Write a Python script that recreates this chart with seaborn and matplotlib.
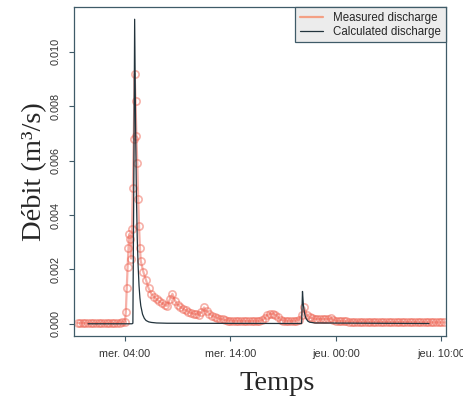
import pandas as pd
import matplotlib
matplotlib.use("Agg")
import matplotlib.pyplot as plt
import seaborn as sns
from matplotlib.lines import Line2D

# Measured discharge (m3/s), sampled every 15 min, every 5 min during the flood
measured_pre = [0.00003, 0.00002, 0.00003, 0.00002, 0.00002, 0.00003,
                0.00003, 0.00002, 0.00003, 0.00004, 0.00003, 0.00003,
                0.00004, 0.00003, 0.00002, 0.00003, 0.00004, 0.00005]
measured_flood = [0.00008, 0.00045, 0.0013, 0.0021, 0.0028, 0.0033, 0.0031,
                  0.0024, 0.0035, 0.0050, 0.0068, 0.0092, 0.0082, 0.0069,
                  0.0059, 0.0046, 0.0036, 0.0028, 0.0023]
measured_post = [
    0.0019,
    0.0016, 0.0013, 0.0011, 0.0010,        # 06h
    0.0009, 0.00082, 0.00076, 0.0007,      # 07h
    0.00066, 0.0009, 0.0011, 0.00085,      # 08h
    0.0007, 0.00062, 0.00056, 0.0005,      # 09h
    0.00045, 0.0004, 0.00037, 0.00035,     # 10h
    0.00034, 0.00042, 0.0006, 0.00046,     # 11h
    0.00037, 0.0003, 0.00026, 0.00022,     # 12h
    0.00018, 0.00016, 0.00014, 0.00012,    # 13h
    0.00012, 0.00011, 0.00011, 0.00011,    # 14h
    0.00011, 0.00011, 0.0001, 0.0001,      # 15h
    0.0001, 0.00011, 0.0001, 0.00011,      # 16h
    0.00013, 0.0002, 0.00033, 0.00037,     # 17h
    0.00037, 0.00034, 0.00025, 0.00015,    # 18h
    0.00012, 0.00011, 0.00011, 0.00011,    # 19h
    0.00011, 0.00012, 0.00015, 0.00032,    # 20h
    0.0006, 0.00033, 0.00024, 0.0002,      # 21h
    0.00018, 0.00018, 0.00017, 0.00018,    # 22h
    0.00017, 0.00018, 0.0002, 0.00015,     # 23h
    0.00011, 0.0001, 0.0001, 0.00009,      # 00h
    0.00009, 0.00008, 0.00008, 0.00008,    # 01h
    0.00008, 0.00008, 0.00007, 0.00008,    # 02h
    0.00007, 0.00007, 0.00007, 0.00007,    # 03h
    0.00007, 0.00007, 0.00006, 0.00007,    # 04h
    0.00006, 0.00006, 0.00006, 0.00006,    # 05h
    0.00006, 0.00006, 0.00006, 0.00006,    # 06h
    0.00006, 0.00005, 0.00006, 0.00005,    # 07h
    0.00005, 0.00005, 0.00005, 0.00005,    # 08h
    0.00005, 0.00005, 0.00005, 0.00005,    # 09h
    0.00005, 0.00005,                      # 10h
]

# Calculated discharge: minutes after Wednesday 00:00 and values
calc_minutes = [30, 280, 285, 290, 295, 300, 305, 310, 315, 320, 325, 330,
                340, 350, 360, 375, 390, 420, 480, 1245, 1250, 1255, 1260,
                1265, 1270, 1280, 1290, 1320, 1970]
calc_values = [0.0, 0.0, 0.00002, 0.005, 0.0112, 0.0075, 0.0047, 0.0031,
               0.0021, 0.0014, 0.00095, 0.00066, 0.00035, 0.0002, 0.00012,
               0.00007, 0.00005, 0.00003, 0.00002, 0.00001, 0.00119, 0.0007,
               0.00045, 0.0003, 0.0002, 0.0001, 0.00006, 0.00003, 0.00001]

y_ticks = [0.000, 0.002, 0.004, 0.006, 0.008, 0.010]
x_tick_times = ["2014-06-11 04:00", "2014-06-11 14:00",
                "2014-06-12 00:00", "2014-06-12 10:00"]
x_tick_labels = ["mer. 04:00", "mer. 14:00", "jeu. 00:00", "jeu. 10:00"]

wed = pd.Timestamp("2014-06-11 00:00")
measured = pd.DataFrame({
    "time": list(pd.date_range("2014-06-10 23:30", periods=len(measured_pre), freq="15min"))
    + list(pd.date_range("2014-06-11 04:00", periods=len(measured_flood), freq="5min"))
    + list(pd.date_range("2014-06-11 05:45", periods=len(measured_post), freq="15min")),
    "debit": measured_pre + measured_flood + measured_post,
})
calc = pd.DataFrame({
    "time": wed + pd.to_timedelta(calc_minutes, unit="min"),
    "debit": calc_values,
})

sns.set_style("white")
plt.rcParams["font.family"] = ["Liberation Sans", "DejaVu Sans"]

frame = "#3f5b68"
meas_color = "#ee6352"
calc_color = "#22333c"

fig = plt.figure(figsize=(4.64, 4.07), dpi=100)
ax = fig.add_axes([0.1595, 0.1744, 0.8015, 0.8084])

sns.lineplot(data=measured, x="time", y="debit", ax=ax, color=meas_color,
             alpha=0.5, lw=1.6, marker="o", markersize=5.2,
             markerfacecolor="none", markeredgecolor=meas_color,
             markeredgewidth=1.2, estimator=None)
sns.lineplot(data=calc, x="time", y="debit", ax=ax, color=calc_color,
             lw=0.9, estimator=None)

ax.set_xlim(wed - pd.Timedelta(minutes=50), wed + pd.Timedelta(hours=34, minutes=26))
ax.set_ylim(-0.00045, 0.01165)

ax.set_yticks(y_ticks)
ax.set_yticklabels([f"{v:.3f}" for v in y_ticks], rotation=90, va="center")
ax.set_xticks(pd.to_datetime(x_tick_times))
ax.set_xticklabels(x_tick_labels)
ax.tick_params(axis="both", which="major", direction="out", length=3.6,
               width=0.8, color=frame, labelsize=7.8, labelcolor="#333333",
               pad=6, left=True, bottom=True)

for sp in ax.spines.values():
    sp.set_visible(True)
    sp.set_color(frame)
    sp.set_linewidth(0.9)

ax.set_xlabel("Temps", fontsize=20.5, family="Liberation Serif")
ax.set_ylabel("Débit (m³/s)", fontsize=20.5, family="Liberation Serif")
ax.xaxis.set_label_coords(0.546, -0.105)
ax.yaxis.set_label_coords(-0.072, 0.5)

handles = [Line2D([], [], color="#f4a084", lw=1.6),
           Line2D([], [], color=calc_color, lw=0.9)]
leg = ax.legend(handles, ["Measured discharge", "Calculated discharge"],
                loc="upper right", fontsize=8.3, frameon=True, fancybox=False,
                borderaxespad=0, handlelength=2.0, handletextpad=0.85,
                labelspacing=0.15, borderpad=0.42, framealpha=1)
leg.get_frame().set_facecolor("#ececec")
leg.get_frame().set_edgecolor(frame)
leg.get_frame().set_linewidth(0.9)

fig.savefig("out.png", dpi=100)
